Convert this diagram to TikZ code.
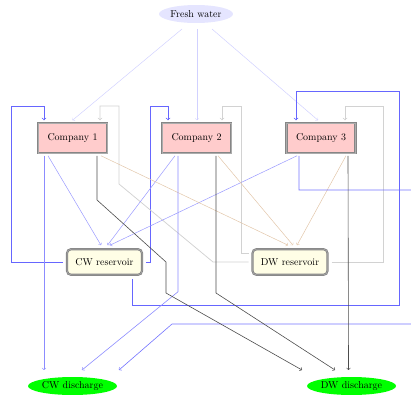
\documentclass[tikz,border=0pt]{standalone}
\usetikzlibrary{shapes.geometric}
\begin{document}
\begin{tikzpicture}[x=1pt,y=-1pt,
  source/.style={ellipse, fill=blue!10, minimum width=74pt, minimum height=18pt, inner sep=0pt, outer sep=6pt},
  boxline/.style={draw=gray!95, double=gray!65, double distance=0.5pt, line width=0.85pt},
  company/.style={rectangle, boxline, fill=red!20, minimum width=69pt, minimum height=29.5pt,
    inner sep=0pt, outer sep=3pt},
  reservoir/.style={rectangle, rounded corners=4pt, boxline, fill=yellow!10, minimum width=75pt,
    minimum height=25.6pt, inner sep=0pt, outer sep=4pt},
  sink/.style={ellipse, fill=green, minimum width=89pt, minimum height=18pt, inner sep=0pt, outer sep=7pt},
  fresh/.style={->, blue!18, line width=0.5pt},
  cwloop/.style={->, blue!60, line width=0.75pt},
  dwloop/.style={->, gray!35, line width=0.75pt},
  tocw/.style={->, blue!40, line width=0.5pt},
  todw/.style={->, brown!45, line width=0.5pt},
  cwout/.style={->, blue!45, line width=0.6pt},
  dwout/.style={->, black!70, line width=0.6pt},
]
\useasboundingbox (0,0) rectangle (411,394);
\clip (0,0) rectangle (411,394);

% nodes
\node[source] (fw) at (196,14) {Fresh water};
\node[company] (c1) at (72.5,138) {Company 1};
\node[company] (c2) at (196.5,138) {Company 2};
\node[company] (c3) at (321,138) {Company 3};
\node[reservoir] (cw) at (104.5,262) {CW reservoir};
\node[reservoir] (dw) at (290,262) {DW reservoir};
\node[sink] (cwd) at (72.5,386) {CW discharge};
\node[sink] (dwd) at (351.5,386) {DW discharge};

% fresh water supply
\draw[fresh] ([xshift=-14pt]fw.south) -- (c1.north);
\draw[fresh] ([xshift=1pt]fw.south) -- ([xshift=0.5pt]c2.north);
\draw[fresh] ([xshift=16pt]fw.south) -- ([xshift=-3pt]c3.north);

% CW reservoir back to the companies
\draw[cwloop] (cw.west) -| (11,106) -| ([xshift=-28.5pt]c1.north);
\draw[cwloop] (cw.east) -| (150,106) -| ([xshift=-28.5pt]c2.north);
\draw[cwloop] ([xshift=27.5pt]cw.south) |- (399,305) -- (399,91) -| ([xshift=-25pt]c3.north);

% DW reservoir back to the companies
\draw[dwloop] (dw.west) -- (213,262) -- (119,184) -- (119,106) -| ([xshift=27.5pt]c1.north);
\draw[dwloop] ([yshift=9pt]dw.west) -| (241,106) -| ([xshift=25.5pt]c2.north);
\draw[dwloop] (dw.east) -| (383,106) -| ([xshift=24pt]c3.north);

% companies to CW reservoir
\draw[tocw] ([xshift=-24.5pt]c1.south) -- ([xshift=-3.5pt]cw.north);
\draw[tocw] ([xshift=-21.5pt]c2.south) -- ([xshift=3pt]cw.north);
\draw[tocw] ([xshift=-24pt]c3.south) -- ([xshift=5.5pt]cw.north);

% companies to DW reservoir
\draw[todw] ([xshift=28.5pt]c1.south) -- ([xshift=-2pt]dw.north);
\draw[todw] ([xshift=21.5pt]c2.south) -- ([xshift=3pt]dw.north);
\draw[todw] ([xshift=25pt]c3.south) -- ([xshift=7pt]dw.north);

% companies to CW discharge
\draw[cwout] ([xshift=-28.5pt]c1.south) -- ([xshift=-28.5pt]cwd.north);
\draw[cwout] ([xshift=-18.5pt]c2.south) -- ++(0,136) -- ([xshift=9.5pt]cwd.north);
\draw[cwout, blue!55] ([xshift=-22pt]c3.south) |- (420,190) -- (420,324) -- (172,324) -- ([xshift=46.5pt]cwd.north);

% companies to DW discharge
\draw[dwout] ([xshift=24.5pt]c1.south) -- (97,200) -- (166,262) -- (166,293) -- ([xshift=-49.5pt]dwd.north);
\draw[dwout] ([xshift=19.5pt]c2.south) -- (216,293) -- ([xshift=-16.5pt]dwd.north);
\draw[dwout] ([xshift=27pt]c3.south) -- ([xshift=-3pt]dwd.north);
\end{tikzpicture}
\end{document}
